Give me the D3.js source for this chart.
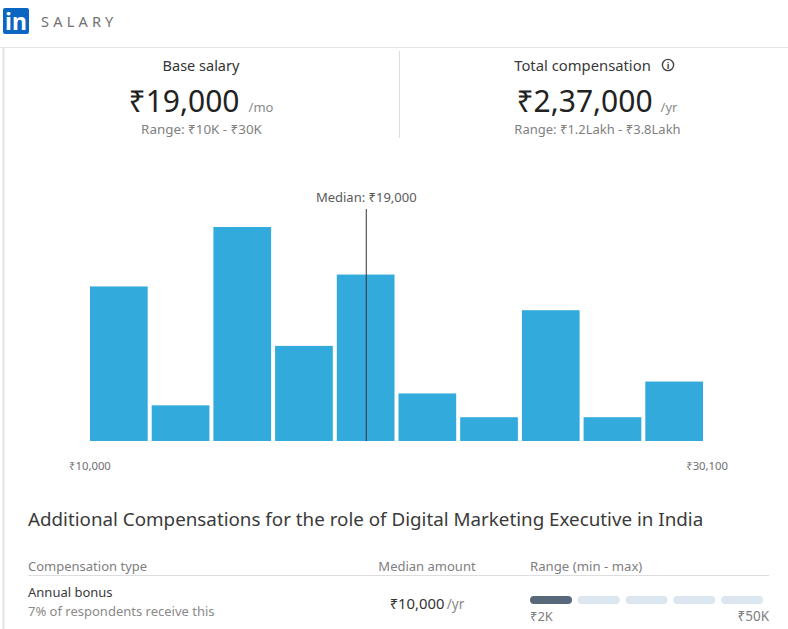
<!DOCTYPE html>
<html>
<head>
<meta charset="utf-8">
<script src="https://d3js.org/d3.v7.min.js"></script>
<style>
html, body { margin: 0; padding: 0; background: #fff; overflow: hidden; }
text { font-family: "Noto Sans", "Open Sans", sans-serif; }
</style>
</head>
<body>
<script>
// respondents per salary bin
var counts = [13, 3, 18, 8, 14, 4, 2, 11, 2, 5];
var binStarts = [10000, 12010, 14020, 16030, 18040, 20050, 22060, 24070, 26080, 28090];
var binWidth = 2010;
var salaryMin = 10000;
var salaryMax = 30100;
var median = 19000;
var axisLabels = ["₹10,000", "₹30,100"];
var rangeSegments = [1, 0, 0, 0, 0];

var width = 788;
var height = 629;
var barPadding = 4;

var svg = d3.select("body").append("svg")
    .attr("width", width)
    .attr("height", height)
    .style("display", "block");

var x = d3.scaleLinear().domain([salaryMin, salaryMax]).range([90, 707]);
var y = d3.scaleLinear().domain([0, 18]).range([441, 227]);

function label(txt, px, py, size, color, anchor, spacing) {
    return svg.append("text")
        .text(txt)
        .attr("x", px)
        .attr("y", py)
        .attr("font-size", size + "px")
        .attr("fill", color)
        .attr("text-anchor", anchor || "start")
        .attr("letter-spacing", spacing || null);
}

// Header
svg.append("rect").attr("x", 3).attr("y", 8).attr("width", 26).attr("height", 26)
    .attr("rx", 2).attr("fill", "#0a66c2");
svg.append("text").text("in").attr("x", 16).attr("y", 30).attr("text-anchor", "middle")
    .attr("font-size", "23px").attr("font-weight", 700).attr("fill", "#fff");
label("SALARY", 41, 27, 14.5, "#707070", "start", "4.2px");
svg.append("line").attr("x1", 0).attr("x2", width).attr("y1", 47.5).attr("y2", 47.5)
    .attr("stroke", "#e6e6e6");
svg.append("line").attr("x1", 3.5).attr("x2", 3.5).attr("y1", 48).attr("y2", height)
    .attr("stroke", "#e4e4dc").attr("stroke-width", 2);

// Summary boxes
label("Base salary", 201, 71, 14.5, "#333", "middle");
label("₹19,000", 184, 112, 30, "#222", "middle");
label("/mo", 261, 112, 13, "#8a8a8a", "middle");
label("Range: ₹10K - ₹30K", 201.5, 134, 13.4, "#808080", "middle");
svg.append("line").attr("x1", 399.5).attr("x2", 399.5).attr("y1", 51).attr("y2", 138)
    .attr("stroke", "#ddd");
label("Total compensation", 582.5, 71, 14.8, "#3a3a3a", "middle");
svg.append("circle").attr("cx", 668).attr("cy", 65).attr("r", 5.6)
    .attr("fill", "none").attr("stroke", "#444").attr("stroke-width", 1.4);
label("i", 668, 69, 9, "#444", "middle").attr("font-weight", 700);
label("₹2,37,000", 584.5, 112, 30, "#222", "middle");
label("/yr", 669, 112, 13, "#8a8a8a", "middle");
label("Range: ₹1.2Lakh - ₹3.8Lakh", 597.5, 134, 13, "#808080", "middle");

// Histogram
svg.selectAll("rect.bar")
    .data(counts)
    .enter()
    .append("rect")
    .attr("class", "bar")
    .attr("x", function(d, i) { return x(binStarts[i]); })
    .attr("y", function(d) { return y(d); })
    .attr("width", function(d, i) { return x(binStarts[i] + binWidth) - x(binStarts[i]) - barPadding; })
    .attr("height", function(d) { return y(0) - y(d); })
    .attr("fill", "#33aadc");

svg.append("line")
    .attr("x1", x(median)).attr("x2", x(median))
    .attr("y1", 209).attr("y2", 441)
    .attr("stroke", "#333").attr("stroke-width", 1);
label("Median: ₹19,000", x(median), 202, 13, "#5a5a5a", "middle");

label(axisLabels[0], 69, 470, 11.3, "#707070", "start");
label(axisLabels[1], 728, 470, 11.3, "#707070", "end");

// Additional compensation table
label("Additional Compensations for the role of Digital Marketing Executive in India", 28, 526, 18.8, "#3a3a3a");
label("Compensation type", 28, 571, 13, "#808080");
label("Median amount", 427, 571, 13, "#808080", "middle");
label("Range (min - max)", 530, 571, 13.2, "#808080");
svg.append("line").attr("x1", 28).attr("x2", 769).attr("y1", 575.5).attr("y2", 575.5)
    .attr("stroke", "#ddd");
label("Annual bonus", 28, 597, 13, "#3a3a3a");
label("7% of respondents receive this", 28, 616, 13, "#8a8a8a");
label("₹10,000", 417, 609, 14.8, "#333", "middle");
label("/yr", 455.5, 609, 13.5, "#888", "middle");

var segX = d3.scaleBand().domain(d3.range(rangeSegments.length)).range([530, 763]).paddingInner(0.12);
svg.selectAll("rect.seg")
    .data(rangeSegments)
    .enter()
    .append("rect")
    .attr("class", "seg")
    .attr("x", function(d, i) { return segX(i); })
    .attr("y", 596)
    .attr("width", segX.bandwidth())
    .attr("height", 8)
    .attr("rx", 4)
    .attr("fill", function(d) { return d ? "#56687a" : "#dce6f1"; });
label("₹2K", 530, 621, 13, "#808080");
label("₹50K", 769, 621, 13.5, "#808080", "end");
</script>
</body>
</html>
